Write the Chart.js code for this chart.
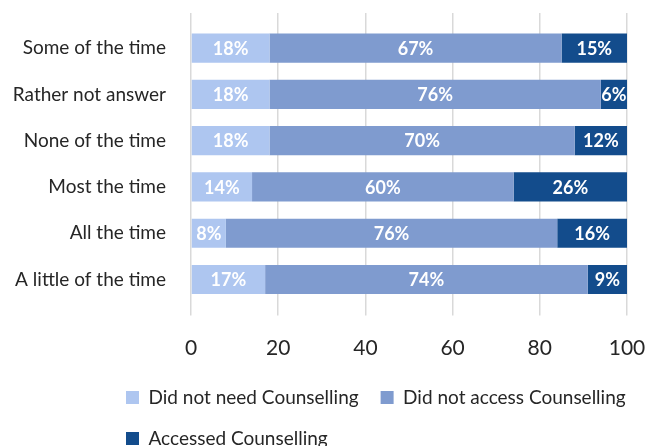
<!DOCTYPE html>
<html>
<head>
<meta charset="utf-8">
<script src="https://cdn.jsdelivr.net/npm/chart.js@4/dist/chart.umd.min.js"></script>
<style>
  html, body { margin: 0; padding: 0; background: #fff; }
  #wrap { width: 657px; height: 446px; position: relative; }
</style>
</head>
<body>
<div id="wrap"><canvas id="c" width="657" height="446"></canvas></div>
<script>
const categories = ["Some of the time", "Rather not answer", "None of the time", "Most the time", "All the time", "A little of the time"];
const didNotNeed = [18, 18, 18, 14, 8, 17];
const didNotAccess = [67, 76, 70, 60, 76, 74];
const accessed = [15, 6, 12, 26, 16, 9];
const seriesNames = ["Did not need Counselling", "Did not access Counselling", "Accessed Counselling"];
const xTicks = [0, 20, 40, 60, 80, 100];

const colors = ["#AEC6F0", "#7F9BCF", "#134C8C"];
const fontFamily = "Lato, 'Open Sans', sans-serif";
const gridColor = "#D9D9D9";

const barLabels = {
  id: 'barLabels',
  afterLayout(chart) {
    chart.scales.y.left = 0;
  },
  afterDatasetsDraw(chart) {
    const ctx = chart.ctx;
    ctx.save();
    ctx.font = "bold 18px " + fontFamily;
    ctx.fillStyle = "#FFFFFF";
    ctx.textAlign = "center";
    ctx.textBaseline = "middle";
    chart.data.datasets.forEach((ds, i) => {
      const meta = chart.getDatasetMeta(i);
      meta.data.forEach((el, j) => {
        const v = ds.data[j];
        const cx = (el.x + el.base) / 2;
        ctx.fillText(v + "%", cx, el.y + 1);
      });
    });
    ctx.restore();
  }
};

new Chart(document.getElementById('c'), {
  type: 'bar',
  data: {
    labels: categories,
    datasets: [
      { label: seriesNames[0], data: didNotNeed, backgroundColor: colors[0] },
      { label: seriesNames[1], data: didNotAccess, backgroundColor: colors[1] },
      { label: seriesNames[2], data: accessed, backgroundColor: colors[2] }
    ]
  },
  options: {
    indexAxis: 'y',
    responsive: false,
    animation: false,
    devicePixelRatio: 1,
    layout: { padding: { left: 104, right: 0, top: 13, bottom: -12 } },
    datasets: { bar: { categoryPercentage: 1, barPercentage: 0.63 } },
    scales: {
      x: {
        stacked: true,
        min: 0, max: 100,
        afterBuildTicks(scale) { scale.ticks = xTicks.map(v => ({ value: v })); },
        afterFit(scale) { scale.paddingRight = 30; scale.height = 63.4; },
        grid: { color: gridColor, lineWidth: 1.5, tickLength: 13, drawTicks: true },
        border: { display: false },
        ticks: { font: { family: fontFamily, size: 21 }, color: "#262626", padding: 20 }
      },
      x2: {
        type: 'linear',
        position: 'top',
        min: 0, max: 100,
        afterBuildTicks(scale) { scale.ticks = xTicks.map(v => ({ value: v })); },
        grid: { color: gridColor, lineWidth: 1.5, tickLength: 12, drawOnChartArea: false, drawTicks: true },
        border: { display: false },
        ticks: { display: false }
      },
      y: {
        stacked: true,
        afterFit(scale) { scale.width = 87; scale.paddingTop = 0; scale.paddingBottom = 0; },
        grid: { display: false, drawTicks: false },
        border: { display: false },
        ticks: { font: { family: fontFamily, size: 19 }, color: "#262626", padding: 25 }
      }
    },
    plugins: {
      legend: {
        position: 'bottom',
        align: 'start',
        labels: {
          font: { family: fontFamily, size: 19 },
          color: "#262626",
          boxWidth: 13,
          boxHeight: 13,
          padding: 22
        }
      },
      tooltip: { enabled: false }
    }
  },
  plugins: [barLabels]
});
</script>
</body>
</html>
